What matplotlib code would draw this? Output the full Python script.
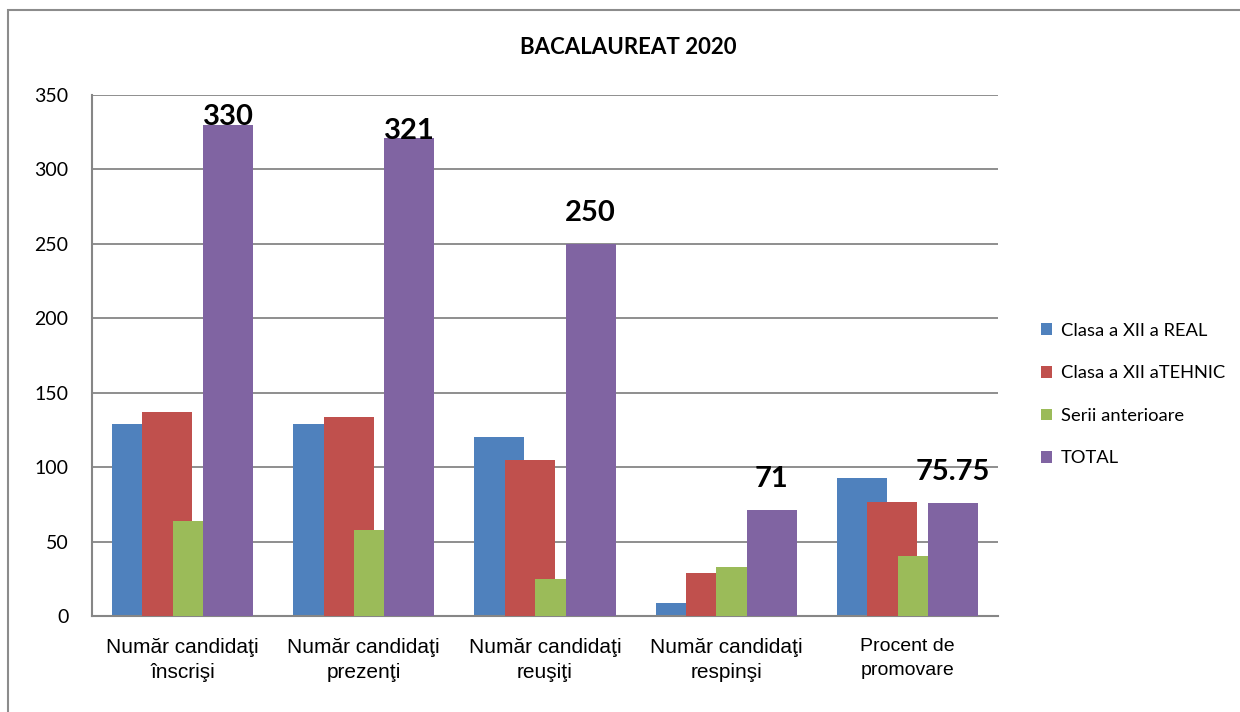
import numpy as np
import matplotlib
matplotlib.use('Agg')
import matplotlib.pyplot as plt
from matplotlib.patches import Rectangle

# data
categories = ['Număr candidaţi\nînscrişi', 'Număr candidaţi\nprezenţi', 'Număr candidaţi\nreuşiţi',
              'Număr candidaţi\nrespinşi', 'Procent de\npromovare']
series_names = ['Clasa a XII a REAL', 'Clasa a XII aTEHNIC', 'Serii anterioare', 'TOTAL']
real = [129, 129, 120, 9, 93]
tehnic = [137, 134, 105, 29, 76.6]
serii = [64, 58, 25, 33, 40]
total = [330, 321, 250, 71, 75.75]
total_labels = ['330', '321', '250', '71', '75.75']
yticks = [0, 50, 100, 150, 200, 250, 300, 350]

colors = ['#4F81BD', '#C0504D', '#9BBB59', '#8064A2']

fig = plt.figure(figsize=(12.4, 7.12), dpi=100)
ax = fig.add_axes([0.0742, 0.1348, 0.7306, 0.7318])

# outer chart border
fig.patches.append(Rectangle((8/1240, -0.05), 1.1, 1 - 10/712 + 0.05, transform=fig.transFigure,
                             fill=False, edgecolor='#8c8c8c', linewidth=1.5))

x = np.arange(len(categories))
step = 0.168
width = 0.276
for i, (vals, name) in enumerate(zip([real, tehnic, serii, total], series_names)):
    ax.bar(x + (i - 1.5) * step, vals, width, color=colors[i], label=name, zorder=2 + i)

# labels on TOTAL
for xi, v, lab in zip(x, total, total_labels):
    yl = v + 5 if v > 300 else v + 21
    ax.text(xi + 1.5 * step, yl, lab, ha='center', va='center', fontsize=21,
            fontweight='bold', family='Lato', zorder=10)

ax.set_ylim(0, 350)
ax.set_xlim(-0.5, len(categories) - 0.5)
ax.set_yticks(yticks)
ax.yaxis.grid(True, color='#868686', linewidth=1.3, zorder=0)
ax.set_axisbelow(True)
ax.tick_params(axis='both', length=0)
ax.tick_params(axis='y', pad=17, labelsize=14)
for t in ax.get_yticklabels():
    t.set_family('Lato')
ax.set_xticks(x)
ax.set_xticklabels(categories, family='Liberation Sans', fontsize=15, linespacing=1.4)
last = ax.get_xticklabels()[-1]
last.set_fontsize(14)
last.set_linespacing(1.55)
ax.tick_params(axis='x', pad=16)
for s in ['top', 'right']:
    ax.spines[s].set_visible(False)
for s in ['left', 'bottom']:
    ax.spines[s].set_color('#868686')
    ax.spines[s].set_linewidth(1.5)

fig.text(628/1240, 1 - 47/712, 'BACALAUREAT 2020', ha='center', va='center',
         fontsize=16, fontweight='bold', family='Lato')

leg = ax.legend(loc='center left', bbox_to_anchor=(1.029, 0.425), frameon=False,
                prop={'family': 'Lato', 'size': 13.2}, handlelength=0.6, handleheight=0.6,
                labelspacing=1.45, handletextpad=0.5)

fig.savefig('out.png', dpi=100)
